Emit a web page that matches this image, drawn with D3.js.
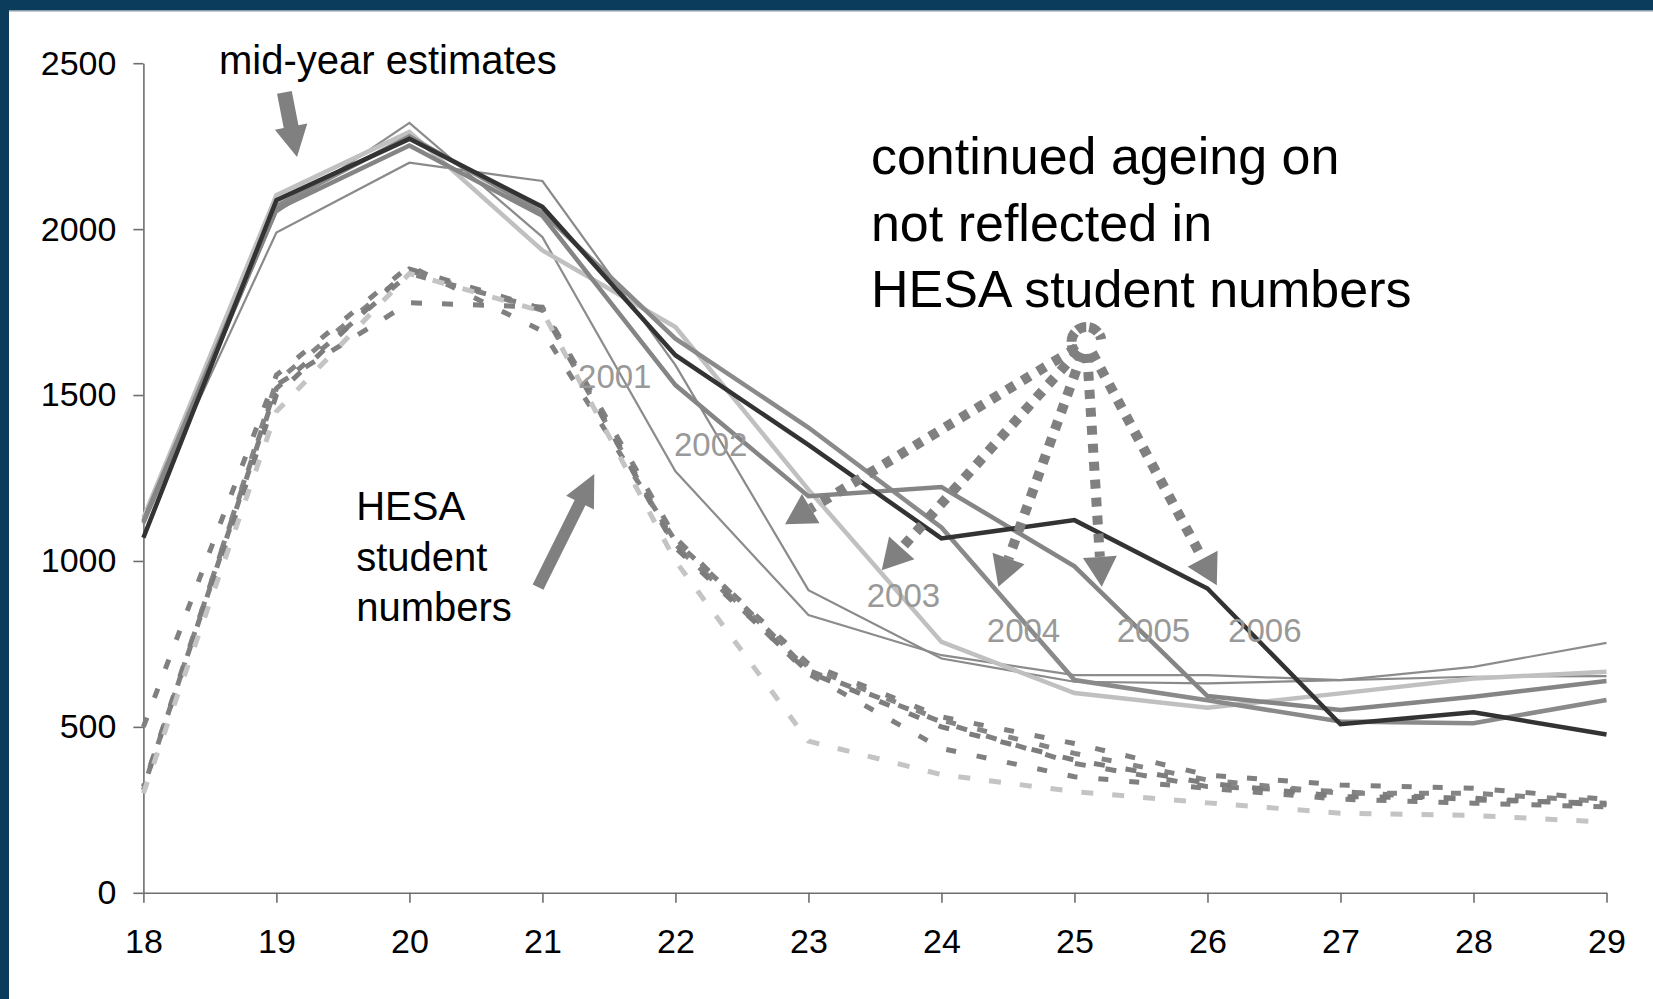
<!DOCTYPE html>
<html><head><meta charset="utf-8">
<script src="https://cdn.jsdelivr.net/npm/d3@7"></script>
<style>html,body{margin:0;padding:0;background:#fff;overflow:hidden}svg{display:block}</style>
</head><body>
<svg id="chart" width="1653" height="999"></svg>
<script>
// ---------- data ----------
const ages = [18, 19, 20, 21, 22, 23, 24, 25, 26, 27, 28, 29];
const yTickValues = [0, 500, 1000, 1500, 2000, 2500];
const years = ["2001", "2002", "2003", "2004", "2005", "2006"];

// mid-year estimates (solid lines)
const mye2001 = [1110, 2050, 2320, 1976, 1270, 837, 716, 656, 656, 641, 681, 753];
const mye2002 = [1120, 1990, 2200, 2145, 1590, 912, 706, 636, 631, 641, 651, 653];
const mye2003 = [1130, 2102, 2293, 1936, 1705, 1215, 756, 602, 558, 601, 646, 666];
const mye2004 = [1120, 2070, 2280, 2050, 1670, 1402, 1101, 641, 580, 516, 511, 581];
const mye2005 = [1115, 2060, 2252, 2040, 1530, 1195, 1223, 984, 593, 551, 591, 638];
const mye2006 = [1070, 2087, 2272, 2067, 1620, 1350, 1068, 1123, 917, 508, 544, 477];

// HESA student numbers (dashed lines)
const hesa2001 = [500, 1560, 1889, 1693, 1060, 690, 530, 450, 355, 325, 315, 282];
const hesa2002 = [320, 1530, 1778, 1765, 1070, 670, 515, 390, 320, 305, 280, 270];
const hesa2003 = [300, 1450, 1866, 1752, 1000, 457, 356, 305, 271, 240, 233, 213];
const hesa2004 = [316, 1520, 1866, 1760, 1050, 660, 435, 350, 315, 282, 270, 259];
const hesa2005 = [310, 1540, 1875, 1755, 1045, 680, 520, 420, 340, 300, 300, 275];
const hesa2006 = [320, 1500, 1880, 1760, 1040, 665, 500, 400, 330, 290, 285, 265];

const textMid = "mid-year estimates";
const textHesa = ["HESA", "student", "numbers"];
const textAgeing = ["continued ageing on", "not reflected in", "HESA student numbers"];

// ---------- layout ----------
const W = 1653, H = 999;
const FONT = "'Liberation Sans', Arial, sans-serif";
const svg = d3.select("#chart");
svg.append("rect").attr("width", W).attr("height", H).attr("fill", "#ffffff");

// frame bands
svg.append("rect").attr("x", 0).attr("y", 0).attr("width", W).attr("height", 10).attr("fill", "#0c3c5b");
svg.append("rect").attr("x", 0).attr("y", 10).attr("width", W).attr("height", 1.5).attr("fill", "#8a9aa6");
svg.append("rect").attr("x", 0).attr("y", 0).attr("width", 9).attr("height", H).attr("fill", "#0c3c5b");

const x = d3.scaleLinear().domain([18, 29]).range([143.4, 1606.5]);
const y = d3.scaleLinear().domain([0, 2500]).range([892.8, 63.2]);

// axes
const gy = svg.append("g").attr("transform", `translate(${x(18)},0)`)
  .call(d3.axisLeft(y).tickValues(yTickValues).tickSize(10).tickSizeOuter(0).tickPadding(17).tickFormat(d3.format("d")));
const gx = svg.append("g").attr("transform", `translate(0,${y(0)})`)
  .call(d3.axisBottom(x).tickValues(ages).tickSize(10).tickSizeOuter(0).tickPadding(26).tickFormat(d3.format("d")));
[gx, gy].forEach(g => {
  g.selectAll("path.domain").attr("stroke", "#6e6e6e").attr("stroke-width", 1.6);
  g.selectAll(".tick line").attr("stroke", "#6e6e6e").attr("stroke-width", 1.6);
  g.selectAll(".tick text").attr("fill", "#000").style("font-family", FONT).style("font-size", "34px");
});

const line = d3.line().x((d, i) => x(ages[i])).y(d => y(d));

// HESA dashed series
const hesaSeries = [
  {v: hesa2001, c: "#808080", dash: "10,21", off: 0},
  {v: hesa2002, c: "#808080", dash: "11,20", off: 8},
  {v: hesa2004, c: "#808080", dash: "10,21", off: 16},
  {v: hesa2005, c: "#858585", dash: "10,22", off: 4},
  {v: hesa2006, c: "#7c7c7c", dash: "11,21", off: 12},
  {v: hesa2003, c: "#c4c4c4", dash: "12,19", off: 0}
];
svg.append("g").selectAll("path").data(hesaSeries).join("path")
  .attr("d", d => line(d.v)).attr("fill", "none")
  .attr("stroke", d => d.c).attr("stroke-width", 5)
  .attr("stroke-dasharray", d => d.dash).attr("stroke-dashoffset", d => d.off);

// mid-year estimates solid series
const myeSeries = [
  {v: mye2001, c: "#8c8c8c", w: 2.2},
  {v: mye2002, c: "#8a8a8a", w: 2.2},
  {v: mye2003, c: "#c0c0c0", w: 4.5},
  {v: mye2004, c: "#8a8a8a", w: 4.5},
  {v: mye2005, c: "#858585", w: 4.5},
  {v: mye2006, c: "#333333", w: 4.5}
];
svg.append("g").selectAll("path").data(myeSeries).join("path")
  .attr("d", d => line(d.v)).attr("fill", "none")
  .attr("stroke", d => d.c).attr("stroke-width", d => d.w)
  .attr("stroke-linejoin", "miter").attr("stroke-miterlimit", 4);

// year labels
const yearLabelPos = [[21.268, 1520], [21.989, 1316], [23.438, 861], [24.341, 755], [25.318, 755], [26.155, 755]];
svg.append("g").selectAll("text").data(years).join("text")
  .attr("x", (d, i) => x(yearLabelPos[i][0])).attr("y", (d, i) => y(yearLabelPos[i][1]))
  .attr("fill", "#999999").style("font-family", FONT).style("font-size", "33px").text(d => d);

// annotation texts
svg.append("text").attr("x", x(18.568)).attr("y", y(2466)).style("font-family", FONT).style("font-size", "40px").text(textMid);
svg.append("g").selectAll("text").data(textHesa).join("text")
  .attr("x", x(19.6)).attr("y", (d, i) => y(1123) + i * 50.5)
  .style("font-family", FONT).style("font-size", "40px").text(d => d);
svg.append("g").selectAll("text").data(textAgeing).join("text")
  .attr("x", x(23.47)).attr("y", (d, i) => y(2165) + i * 66.5)
  .style("font-family", FONT).style("font-size", "52px").text(d => d);

// arrows
function arrowPoly(x1, y1, x2, y2, sw, hw, hl) {
  const dx = x2 - x1, dy = y2 - y1, L = Math.hypot(dx, dy);
  const ux = dx / L, uy = dy / L, nx = -uy, ny = ux;
  const bx = x2 - ux * hl, by = y2 - uy * hl;
  return [[x1 + nx * sw / 2, y1 + ny * sw / 2], [bx + nx * sw / 2, by + ny * sw / 2], [bx + nx * hw / 2, by + ny * hw / 2],
          [x2, y2], [bx - nx * hw / 2, by - ny * hw / 2], [bx - nx * sw / 2, by - ny * sw / 2], [x1 - nx * sw / 2, y1 - ny * sw / 2]];
}
const solidArrows = [
  {a: [19.06, 2412], b: [19.155, 2217], sw: 15, hw: 33, hl: 31},
  {a: [20.967, 921], b: [21.39, 1262], sw: 12, hw: 31, hl: 32}
];
svg.append("g").selectAll("polygon").data(solidArrows).join("polygon")
  .attr("points", d => arrowPoly(x(d.a[0]), y(d.a[1]), x(d.b[0]), y(d.b[1]), d.sw, d.hw, d.hl).map(p => p.join(",")).join(" "))
  .attr("fill", "#808080");

// dotted fan arrows
const hub = [25.09, 1660];
const fanTips = [[22.824, 1111], [23.551, 972], [24.428, 922], [25.205, 922], [26.07, 927]];
const gf = svg.append("g");
const hx = x(hub[0]), hy = y(hub[1]);
gf.append("path")
  .attr("d", d3.arc()({innerRadius: 15, outerRadius: 15, startAngle: -2.3, endAngle: 1.4}))
  .attr("transform", `translate(${hx},${hy})`)
  .attr("fill", "none").attr("stroke", "#808080").attr("stroke-width", 10).attr("stroke-dasharray", "8,5");
fanTips.forEach(t => {
  const tx = x(t[0]), ty = y(t[1]);
  const dx = tx - hx, dy = ty - hy, L = Math.hypot(dx, dy);
  const ux = dx / L, uy = dy / L;
  const sx = hx + ux * 12, sy = hy + uy * 12;
  const bx = tx - ux * 30, by = ty - uy * 30;
  gf.append("line").attr("x1", sx).attr("y1", sy).attr("x2", bx).attr("y2", by)
    .attr("stroke", "#808080").attr("stroke-width", 10).attr("stroke-dasharray", "9,9");
  gf.append("polygon")
    .attr("points", arrowPoly(bx - ux, by - uy, tx, ty, 0, 34, 30).map(p => p.join(",")).join(" "))
    .attr("fill", "#808080");
});
</script>
</body></html>
